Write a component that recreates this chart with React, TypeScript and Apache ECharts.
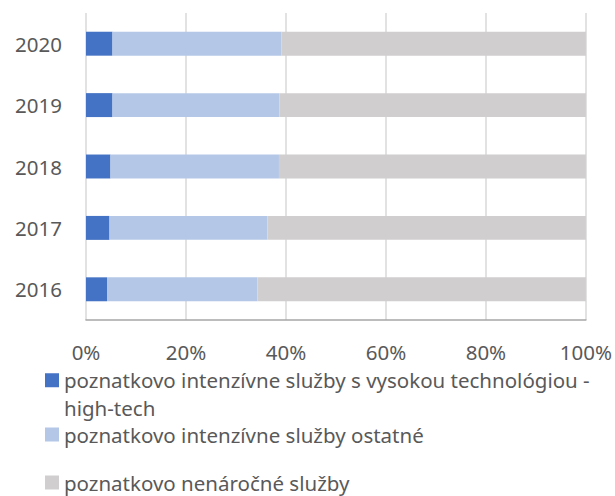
import React, { useEffect, useRef } from "react";
import * as echarts from "echarts";

const categories = ["2016", "2017", "2018", "2019", "2020"];
const seriesNames = [
  "poznatkovo intenzívne služby s vysokou technológiou - high-tech",
  "poznatkovo intenzívne služby ostatné",
  "poznatkovo nenáročné služby",
];
const highTech = [4.2, 4.7, 4.9, 5.3, 5.3];
const ostatne = [30.1, 31.6, 33.7, 33.4, 33.8];
const nenarocne = [65.7, 63.7, 61.4, 61.3, 60.9];
const xTicks = [0, 20, 40, 60, 80, 100];
const colors = ["#4472C4", "#B4C7E7", "#D0CECE"];

const FONT = "Noto Sans";
const TEXT = "#595959";
const FS = 20.5;

export default function App() {
  const ref = useRef<HTMLDivElement>(null);
  useEffect(() => {
    if (!ref.current) return;
    const chart = echarts.init(ref.current, null, { renderer: "svg" });
    const legendBase = {
      orient: "vertical" as const,
      left: 45,
      padding: 0,
      itemWidth: 14,
      itemHeight: 14,
      itemGap: 6,
      icon: "rect",
      selectedMode: false,
    };
    chart.setOption({
      animation: false,
      grid: { left: 86, right: 29, top: 13, bottom: 176, containLabel: false },
      xAxis: {
        type: "value",
        min: xTicks[0],
        max: xTicks[xTicks.length - 1],
        interval: 20,
        axisLabel: {
          formatter: "{value}%",
          fontSize: FS,
          fontFamily: FONT,
          color: TEXT,
          margin: 21,
        },
        axisLine: { show: true, lineStyle: { color: "#A6A6A6", width: 1.5 } },
        axisTick: { show: false },
        splitLine: { show: true, lineStyle: { color: "#D9D9D9", width: 1.5 } },
      },
      yAxis: {
        type: "category",
        data: categories,
        axisLine: { show: false },
        axisTick: { show: false },
        axisLabel: {
          fontSize: FS,
          fontFamily: FONT,
          color: TEXT,
          margin: 24,
        },
      },
      legend: [
        {
          ...legendBase,
          top: 339,
          data: [seriesNames[0]],
          formatter: (n: string) => "\n" + n.replace("- high-tech", "-\nhigh-tech"),
          textStyle: {
            fontSize: FS,
            fontFamily: FONT,
            color: TEXT,
            lineHeight: 27.5,
          },
        },
        {
          ...legendBase,
          top: 424,
          data: [seriesNames[1]],
          textStyle: { fontSize: FS, fontFamily: FONT, color: TEXT, lineHeight: 18 },
        },
        {
          ...legendBase,
          top: 472,
          data: [seriesNames[2]],
          textStyle: { fontSize: FS, fontFamily: FONT, color: TEXT, lineHeight: 18 },
        },
      ],
      series: [highTech, ostatne, nenarocne].map((d, i) => ({
        name: seriesNames[i],
        type: "bar",
        stack: "total",
        data: d,
        barWidth: "39%",
        itemStyle: { color: colors[i] },
        emphasis: { disabled: true },
      })),
    });
    return () => chart.dispose();
  }, []);
  return (
    <div
      ref={ref}
      style={{ position: "fixed", left: 0, top: 0, width: 615, height: 496, background: "#fff" }}
    />
  );
}
